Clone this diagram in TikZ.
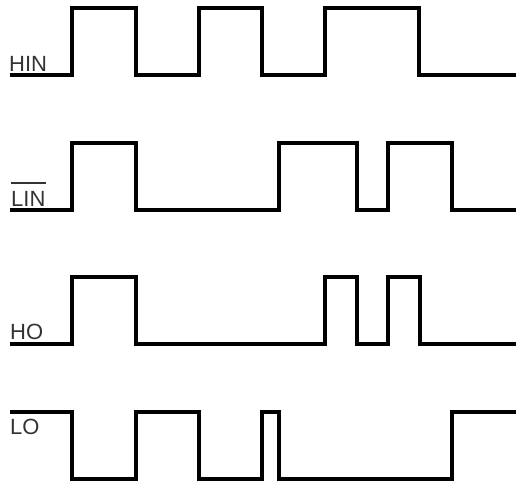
\documentclass[tikz,border=0pt]{standalone}
\usepackage{fontspec}
\setmainfont{Liberation Sans}
\definecolor{labelgray}{HTML}{333333}
\begin{document}
\begin{tikzpicture}[x=1pt,y=-1pt,
  wave/.style={line width=3.3pt,line join=miter,black},
  siglabel/.style={anchor=base west,inner sep=0pt,text=labelgray,font=\fontsize{22}{24}\selectfont}]
\useasboundingbox (0,0) rectangle (517,484);
% HIN
\draw[wave] (10,75) -- (72,75) -- (72,8) -- (136,8) -- (136,75) -- (199,75) -- (199,8) -- (262,8) -- (262,75) -- (325,75) -- (325,8) -- (419,8) -- (419,75) -- (516,75);
% LIN
\draw[wave] (10,210) -- (72,210) -- (72,143) -- (136,143) -- (136,210) -- (279,210) -- (279,143) -- (357,143) -- (357,210) -- (388,210) -- (388,143) -- (452,143) -- (452,210) -- (516,210);
% HO
\draw[wave] (10,344) -- (72,344) -- (72,277) -- (136,277) -- (136,344) -- (325,344) -- (325,277) -- (357,277) -- (357,344) -- (388,344) -- (388,277) -- (420,277) -- (420,344) -- (516,344);
% LO
\draw[wave] (10,412) -- (72,412) -- (72,479) -- (136,479) -- (136,412) -- (199,412) -- (199,479) -- (262,479) -- (262,412) -- (279,412) -- (279,479) -- (452,479) -- (452,412) -- (516,412);
% labels
\node[siglabel] (hin) at (9,72) {HIN};
\node[siglabel] (lin) at (11,206) {LIN};
\draw[line width=2pt,labelgray] ([yshift=8pt]lin.north west) -- ([yshift=8pt]lin.north east);
\node[siglabel] (ho) at (10,339) {HO};
\node[siglabel] (lo) at (10,434) {LO};
\end{tikzpicture}
\end{document}
